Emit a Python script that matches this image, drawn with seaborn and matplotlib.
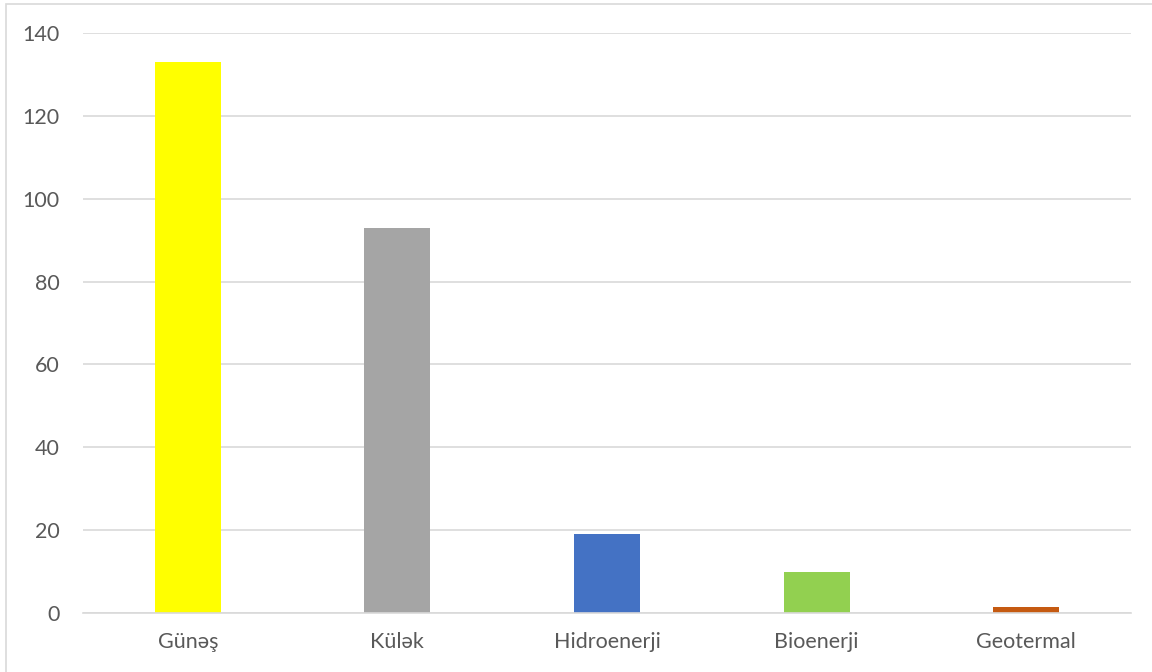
import matplotlib
matplotlib.use("Agg")
import matplotlib.pyplot as plt
import seaborn as sns
import pandas as pd
from matplotlib.patches import Rectangle

sources = ["Günəş", "Külək", "Hidroenerji", "Bioenerji", "Geotermal"]
values = [133, 93, 19, 10, 1.5]
colors = ["#FFFF00", "#A5A5A5", "#4472C4", "#92D050", "#C55A11"]

df = pd.DataFrame({"source": sources, "value": values})

sns.set_theme(style="white")
plt.rcParams["font.family"] = ["Lato", "DejaVu Sans"]

fig = plt.figure(figsize=(11.52, 6.72), dpi=100)
W, H = 1152, 672
ax = fig.add_axes([83 / W, 1 - 613 / H, (1131 - 83) / W, (613 - 33) / H])

sns.barplot(data=df, x="source", y="value", hue="source", palette=colors,
            width=0.315, legend=False, ax=ax, saturation=1, linewidth=0)

ax.set_ylim(0, 140)
ax.set_xlim(-0.5, 4.5)
ax.set_yticks(range(0, 141, 20))
ax.yaxis.grid(True, color="#D9D9D9", linewidth=1.2)
ax.set_axisbelow(True)
for s in ["top", "right", "left"]:
    ax.spines[s].set_visible(False)
ax.spines["bottom"].set_color("#D9D9D9")
ax.spines["bottom"].set_linewidth(1.2)
ax.tick_params(axis="both", length=0, labelsize=15.5, labelcolor="#595959")
ax.tick_params(axis="x", pad=14)
ax.tick_params(axis="y", pad=17)
ax.set_xlabel("")
ax.set_ylabel("")

# chart frame
fig.patches.append(Rectangle((6 / W, -0.01), 1.1, 1 - 4 / H + 0.01,
                             transform=fig.transFigure, fill=False,
                             edgecolor="#D9D9D9", linewidth=1.2))

fig.savefig("out.png", dpi=100)
